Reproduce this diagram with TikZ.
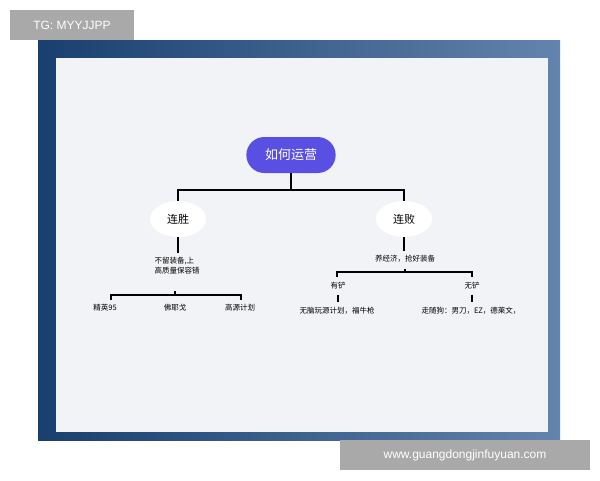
\documentclass[tikz,border=0pt]{standalone}
\usepackage{fontspec}
\setmainfont{Liberation Sans}
\newfontfamily\cjk{Noto Sans CJK SC}
\usetikzlibrary{positioning,shapes.misc,shapes.geometric}
\definecolor{frameblue}{HTML}{1F4F8A}
\definecolor{panelgray}{HTML}{F2F3F6}
\definecolor{pillblue}{HTML}{5A4FE3}
\definecolor{markgray}{HTML}{A9A9A9}
\tikzset{
  pill/.style={rounded rectangle, fill=pillblue, text=white, minimum width=96pt,
    minimum height=36pt, font=\cjk\fontsize{13}{15}\selectfont},
  cloudbox/.style={ellipse, fill=white, minimum width=56pt, minimum height=36pt,
    font=\cjk\fontsize{11}{13}\selectfont},
  leaf/.style={font=\cjk\fontsize{7.5}{10}\selectfont, inner sep=1pt, align=center},
  line/.style={draw, line width=1.4pt},
  watermark/.style={fill=markgray, text=white, font=\fontsize{12}{14}\selectfont, inner sep=0pt}
}
\begin{document}
\begin{tikzpicture}[x=1pt,y=-1pt]
  \useasboundingbox (0,0) rectangle (600,480);
  \fill[white] (0,0) rectangle (600,480);
  % frame and panel
  \shade[left color=frameblue!80!black, right color=frameblue!70!white] (38,40) rectangle (560,440);
  \fill[panelgray] (56,58) rectangle (548,432);

  % root
  \node[pill] (root) at (291,155) {如何运营};
  \coordinate (rootbar) at (291,190);

  % first level
  \node[cloudbox] (win) at (178,219) {连胜};
  \node[cloudbox] (lose) at (404,219) {连败};
  \draw[line] (root.south) -- (rootbar);
  \draw[line] (win.north) |- (rootbar) -| (lose.north);

  % left branch
  \node[leaf, align=left] (keep) at (177,266) {不留装备,上\\高质量保容错};
  \draw[line] (win.south) -- ++(0,16);
  \node[leaf] (elite) at (105,308) {精英95};
  \node[leaf] (viego) at (175,308) {佛耶戈};
  \node[leaf] (source) at (240,308) {高源计划};
  \coordinate (leftbar) at (175,295);
  \coordinate (eliteup) at (111,300);
  \coordinate (sourceup) at (241,300);
  \draw[line] (eliteup) |- (leftbar) -| (sourceup);
  \draw[line] (leftbar) -- ++(0,-4);

  % right branch
  \node[leaf] (econ) at (405,259) {养经济，抢好装备};
  \draw[line] (lose.south) -- ++(0,14);
  \node[leaf] (shovel) at (338,286) {有铲};
  \node[leaf] (noshovel) at (472,286) {无铲};
  \coordinate (rightbar) at (405,272);
  \coordinate (shovelup) at (337,277);
  \coordinate (noshovelup) at (472,277);
  \draw[line] (shovelup) |- (rightbar) -| (noshovelup);
  \draw[line] (rightbar) -- ++(0,-3);
  \node[leaf] (brainless) at (337,311) {无脑玩源计划，福牛枪};
  \node[leaf] (roll) at (471,311) {走随狗：男刀，EZ，德莱文，};
  \draw[line] (shovel.south) ++(0,4) -- ++(0,7);
  \draw[line] (noshovel.south) ++(0,4) -- ++(0,7);

  % watermarks
  \node[watermark, minimum width=124pt, minimum height=30pt] (tg) at (72,25) {TG: MYYJJPP};
  \node[watermark, minimum width=250pt, minimum height=30pt] (site) at (465,455) {www.guangdongjinfuyuan.com};
\end{tikzpicture}
\end{document}
